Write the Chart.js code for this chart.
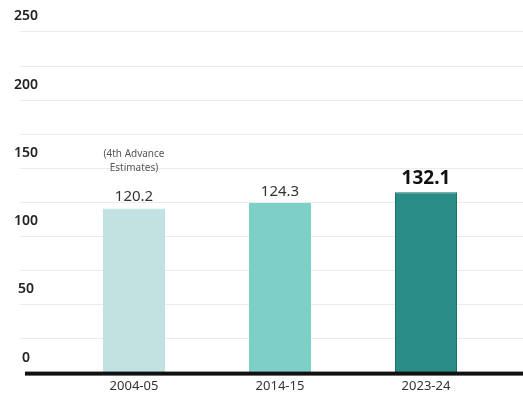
<!DOCTYPE html>
<html>
<head>
<meta charset="utf-8">
<script src="https://cdn.jsdelivr.net/npm/chart.js@4"></script>
<style>
  html, body { margin: 0; padding: 0; background: #fff; }
  #wrap { width: 523px; height: 404px; }
</style>
</head>
<body>
<div id="wrap"><canvas id="prodChart" width="523" height="404"></canvas></div>
<script>
const years = ['2004-05', '2014-15', '2023-24'];
const output = [120.2, 124.3, 132.1];
const notes = [['(4th Advance', 'Estimates)'], [], []];
const yTicks = [0, 50, 100, 150, 200, 250];

const barColors = ['#c2e2e2', '#7dcfc8', '#2a8c86'];
const barBorders = ['#c2e2e2', '#7dcfc8', '#1f6f6b'];

// grid lines run past the plot area, like the original
const gridPlugin = {
  id: 'fullGrid',
  beforeDatasetsDraw(chart) {
    const { ctx, scales: { y } } = chart;
    ctx.save();
    ctx.strokeStyle = '#ececec';
    ctx.lineWidth = 1;
    y.ticks.forEach(t => {
      if (t.value === 0) return;
      const py = Math.round(y.getPixelForValue(t.value)) + 0.5;
      ctx.beginPath();
      ctx.moveTo(20, py);
      ctx.lineTo(chart.width, py);
      ctx.stroke();
    });
    ctx.restore();
  },
  afterDatasetsDraw(chart) {
    const { ctx, scales: { y } } = chart;
    const py = y.getPixelForValue(0);
    ctx.save();
    ctx.fillStyle = '#111';
    ctx.fillRect(25, py - 1, chart.width - 25, 4);
    ctx.restore();
  }
};

const labelPlugin = {
  id: 'barLabels',
  afterDatasetsDraw(chart) {
    const { ctx } = chart;
    const meta = chart.getDatasetMeta(0);
    ctx.save();
    ctx.textAlign = 'center';
    ctx.textBaseline = 'bottom';
    meta.data.forEach((bar, i) => {
      const last = i === meta.data.length - 1;
      ctx.font = last ? 'bold 19px "Noto Sans"' : '15px "Noto Sans"';
      ctx.fillStyle = last ? '#111' : '#333';
      ctx.fillText(output[i].toFixed(1), bar.x, bar.y - 4);
      const lines = notes[i];
      ctx.font = '10px "Noto Sans"';
      ctx.fillStyle = '#555';
      lines.forEach((ln, k) => {
        ctx.fillText(ln, bar.x, bar.y - 35 - (lines.length - 1 - k) * 14);
      });
    });
    ctx.restore();
  }
};

new Chart(document.getElementById('prodChart'), {
  type: 'bar',
  data: {
    labels: years,
    datasets: [{
      data: output,
      backgroundColor: barColors,
      borderColor: barBorders,
      borderWidth: 1,
      barPercentage: 0.425,
      categoryPercentage: 1
    }]
  },
  options: {
    responsive: false,
    animation: false,
    layout: { padding: { left: 0, right: 24, top: 30, bottom: 0 } },
    plugins: { legend: { display: false }, tooltip: { enabled: false } },
    scales: {
      x: {
        grid: { display: false, drawTicks: false },
        border: { display: false },
        ticks: {
          padding: 6,
          color: '#333',
          font: { family: 'Noto Sans', size: 13 }
        },
        afterFit(scale) { scale.height = 27; }
      },
      y: {
        min: 0,
        max: 250,
        grid: { display: false, drawTicks: false },
        border: { display: false },
        ticks: {
          stepSize: 25,
          padding: 23,
          crossAlign: 'center',
          labelOffset: -15,
          color: '#222',
          font: { family: 'Noto Sans', size: 14, weight: '600' },
          callback: v => (yTicks.includes(v) ? v : '')
        },
        afterFit(scale) { scale.width = 61; }
      }
    }
  },
  plugins: [gridPlugin, labelPlugin]
});
</script>
</body>
</html>
